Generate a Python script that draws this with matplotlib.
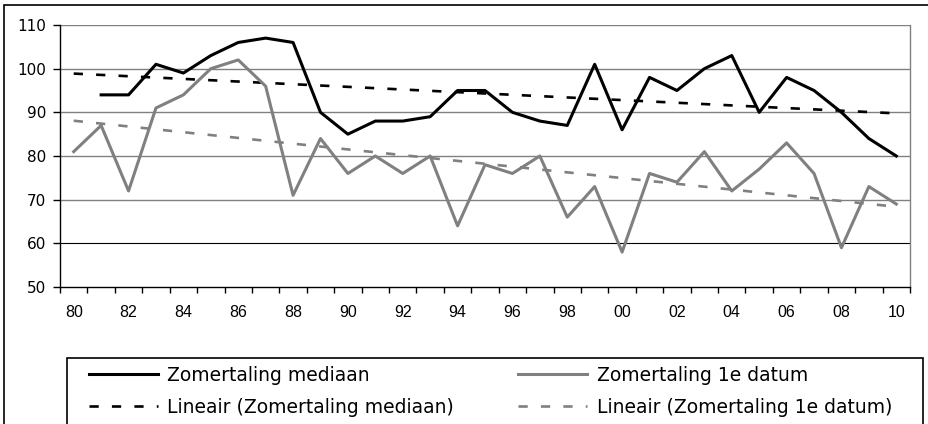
import numpy as np
import matplotlib.pyplot as plt
from matplotlib.patches import Rectangle
from matplotlib.lines import Line2D

years = list(range(1980, 2011))
year_labels = ['80', '82', '84', '86', '88', '90', '92', '94', '96', '98',
               '00', '02', '04', '06', '08', '10']

# Zomertaling mediaan (no value for 1980)
mediaan = [np.nan, 94, 94, 101, 99, 103, 106, 107, 106, 90,
           85, 88, 88, 89, 95, 95, 90, 88, 87, 101,
           86, 98, 95, 100, 103, 90, 98, 95, 90, 84, 80]

# Zomertaling 1e datum
eerste = [81, 87, 72, 91, 94, 100, 102, 96, 71, 84,
          76, 80, 76, 80, 64, 78, 76, 80, 66, 73,
          58, 76, 74, 81, 72, 77, 83, 76, 59, 73, 69]

x = np.arange(len(years))
med = np.array(mediaan, dtype=float)
eer = np.array(eerste, dtype=float)

# linear trendlines (Excel "Lineair")
ok = ~np.isnan(med)
p_med = np.polyfit(x[ok], med[ok], 1)
p_eer = np.polyfit(x, eer, 1)

W, H = 929, 424
fig = plt.figure(figsize=(W / 100, H / 100), dpi=100)
ax = fig.add_axes([60 / W, 1 - 287 / H, 850 / W, (287 - 25) / H])

grey = '#808080'
ax.plot(x, med, color='black', lw=2.2, zorder=3)
ax.plot(x, eer, color=grey, lw=2.2, zorder=3)
ax.plot(x, np.polyval(p_med, x), color='black', lw=1.9, dashes=(3.5, 5), zorder=2)
ax.plot(x, np.polyval(p_eer, x), color=grey, lw=1.9, dashes=(3.5, 5), zorder=2)

ax.set_xlim(-0.5, len(years) - 0.5)
ax.set_ylim(50, 110)

# grid
for v in [70, 80, 90, 100, 110]:
    ax.axhline(v, color=grey, lw=1.0, zorder=1)
ax.axhline(60, color='black', lw=0.8, zorder=1)

ax.spines['top'].set_visible(False)
ax.spines['right'].set_color(grey)
ax.spines['right'].set_linewidth(1.0)
ax.spines['left'].set_linewidth(1.0)
ax.spines['bottom'].set_linewidth(1.0)

ax.set_yticks(range(50, 111, 10))
ax.set_yticklabels([str(v) for v in range(50, 111, 10)], fontsize=11,
                   family='DejaVu Sans')
ax.tick_params(axis='y', length=5, width=1, pad=5)

# ticks between categories, labels on every other category
ax.set_xticks(np.arange(-0.5, len(years), 1))
ax.set_xticklabels([])
ax.set_xticks(x[::2], minor=True)
ax.set_xticklabels(year_labels, minor=True, fontsize=11.5, family='Liberation Sans')
ax.tick_params(axis='x', which='major', length=4.5, width=1)
ax.tick_params(axis='x', which='minor', length=0, pad=13)

# outer chart frame
fig.patches.append(Rectangle((4 / W, -0.1), 1.2, 1 - 5 / H + 0.1,
                             transform=fig.transFigure, fill=False,
                             edgecolor='black', lw=1.2))
# legend frame
fig.patches.append(Rectangle((67 / W, -0.1), (923 - 67) / W, 1 - 358 / H + 0.1,
                             transform=fig.transFigure, fill=False,
                             edgecolor='black', lw=1.2))

handles = [Line2D([], [], color='black', lw=2.2),
           Line2D([], [], color='black', lw=1.9, dashes=(3.5, 5)),
           Line2D([], [], color=grey, lw=2.2),
           Line2D([], [], color=grey, lw=1.9, dashes=(3.5, 5))]
labels = ['Zomertaling mediaan', 'Lineair (Zomertaling mediaan)',
          'Zomertaling 1e datum', 'Lineair (Zomertaling 1e datum)']
fig.legend(handles, labels, ncol=2, frameon=False, loc='upper left',
           bbox_to_anchor=(83 / W, 1 - 360 / H), prop={'family': 'DejaVu Sans', 'size': 13.5},
           handlelength=3.7, handletextpad=0.5, columnspacing=3.4,
           labelspacing=0.7, borderaxespad=0, borderpad=0.3)

plt.savefig('out.png', dpi=100)
